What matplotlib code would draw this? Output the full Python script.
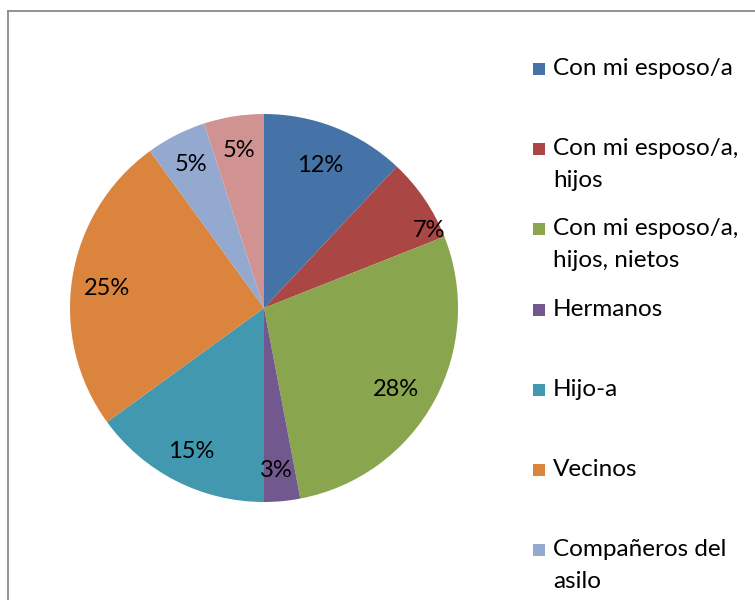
import numpy as np
import matplotlib
matplotlib.use("Agg")
import matplotlib.pyplot as plt
from matplotlib.patches import Rectangle
from matplotlib.lines import Line2D

categories = ["Con mi esposo/a", "Con mi esposo/a,\nhijos", "Con mi esposo/a,\nhijos, nietos",
              "Hermanos", "Hijo-a", "Vecinos", "Compañeros del\nasilo", "Otros"]
values = [12, 7, 28, 3, 15, 25, 5, 5]
colors = ["#4572A7", "#AA4643", "#89A54E", "#71588F", "#4198AF", "#DB843D", "#93A9CF", "#D19392"]

# label placement style (fraction of radius, extra angle in degrees)
label_dist = [0.79, 0.94, 0.80, 0.84, 0.83, 0.815, 0.83, 0.82]
label_dang = [0, 9, 3, 1, 0, -2, 0, 0]

plt.rcParams['font.family'] = ['Lato', 'DejaVu Sans']

W, H = 755, 600
fig = plt.figure(figsize=(W / 100, H / 100), dpi=100)
fig.patch.set_facecolor("white")

# chart border (top and left visible)
fig.add_artist(Line2D([7.5 / W, 7.5 / W], [0, 1 - 10.5 / H], transform=fig.transFigure,
                      color="#8a8a8a", lw=1.3))
fig.add_artist(Line2D([7.5 / W, 1], [1 - 10.5 / H, 1 - 10.5 / H], transform=fig.transFigure,
                      color="#8a8a8a", lw=1.3))

cx, cy, R = 264, 308, 194
ax = fig.add_axes([(cx - R) / W, (H - cy - R) / H, 2 * R / W, 2 * R / H])
wedges, _ = ax.pie(values, colors=colors, startangle=90, counterclock=False,
                   radius=1, wedgeprops=dict(linewidth=0))
ax.set_xlim(-1, 1)
ax.set_ylim(-1, 1)
ax.set_aspect("equal")
ax.axis("off")

total = sum(values)
for w, v, d, da in zip(wedges, values, label_dist, label_dang):
    mid = (w.theta1 + w.theta2) / 2 - da
    x = d * np.cos(np.radians(mid))
    y = d * np.sin(np.radians(mid))
    ax.text(x, y, f"{100 * v / total:.0f}%", ha="center", va="center",
            fontsize=17, color="black")

# legend
sq = 12
for i, (lab, col) in enumerate(zip(categories[:7], colors[:7])):
    yc = 69 + i * 80.2
    fig.add_artist(Rectangle((533 / W, 1 - (yc + sq / 2) / H), sq / W, sq / H,
                             transform=fig.transFigure, facecolor=col, edgecolor="none"))
    fig.text(553 / W, 1 - (yc - 11) / H, lab, ha="left", va="top", fontsize=17.5,
             color="black", linespacing=1.62)

fig.savefig("out.png", dpi=100, facecolor="white")
